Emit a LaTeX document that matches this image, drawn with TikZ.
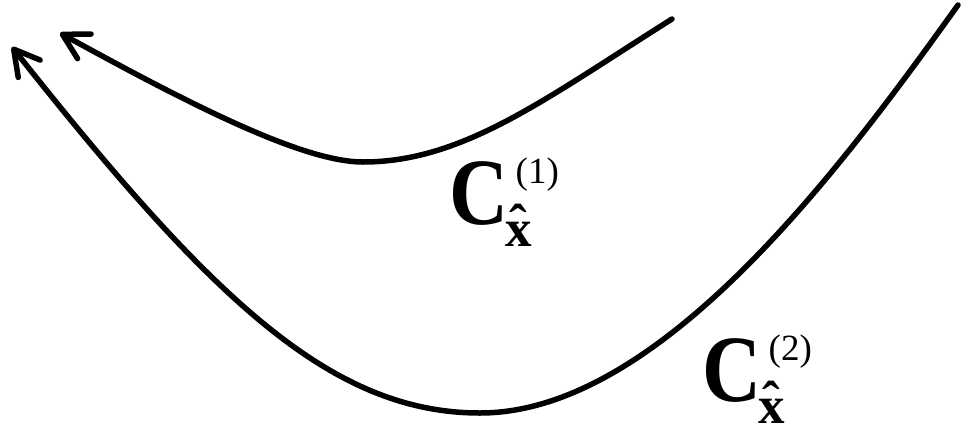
\documentclass[tikz,border=0pt]{standalone}
\usepackage{fontspec}
\setmainfont{Liberation Serif}
\usetikzlibrary{arrows.meta}
\newcommand\hatx{\makebox[0pt][l]{\raisebox{5pt}{\hspace{3.5pt}\char"02C6}}x}
\newcommand\Clabel[1]{%
  {\fontsize{95}{95}\selectfont\bfseries\scalebox{0.86}[1]{C}}%
  \makebox[0pt][l]{\hspace{7pt}\raisebox{40.5pt}{\fontsize{37}{37}\selectfont\mdseries(#1)}}%
  \hspace{-3pt}\raisebox{-22pt}{\fontsize{53}{53}\selectfont\bfseries\hatx}}
\begin{document}
\begin{tikzpicture}[x=1pt,y=-1pt,
  curve/.style={line width=5.5pt, line cap=round,
    -{Straight Barb[length=25pt,width=28pt,line cap=round,line join=round]}},
  clab/.style={inner sep=0pt, anchor=base west}]
\useasboundingbox (0,0) rectangle (961,426);
% curves
\coordinate (a1) at (672,19);
\coordinate (m1) at (363,162);
\coordinate (t1) at (60,33);
\coordinate (a2) at (958,5);
\coordinate (m2) at (480,413);
\coordinate (t2) at (12,47);
\draw[curve] (a1) .. controls (545,99) and (463,162) .. (m1)
  .. controls (303,162) and (191,105) .. (t1);
\draw[curve] (a2) .. controls (842,167) and (660,413) .. (m2)
  .. controls (330,413) and (210,297) .. (t2);
% labels
\node[clab] (l1) at (449.5,224) {\Clabel{1}};
\node[clab] (l2) at (702.5,401) {\Clabel{2}};
\end{tikzpicture}
\end{document}
